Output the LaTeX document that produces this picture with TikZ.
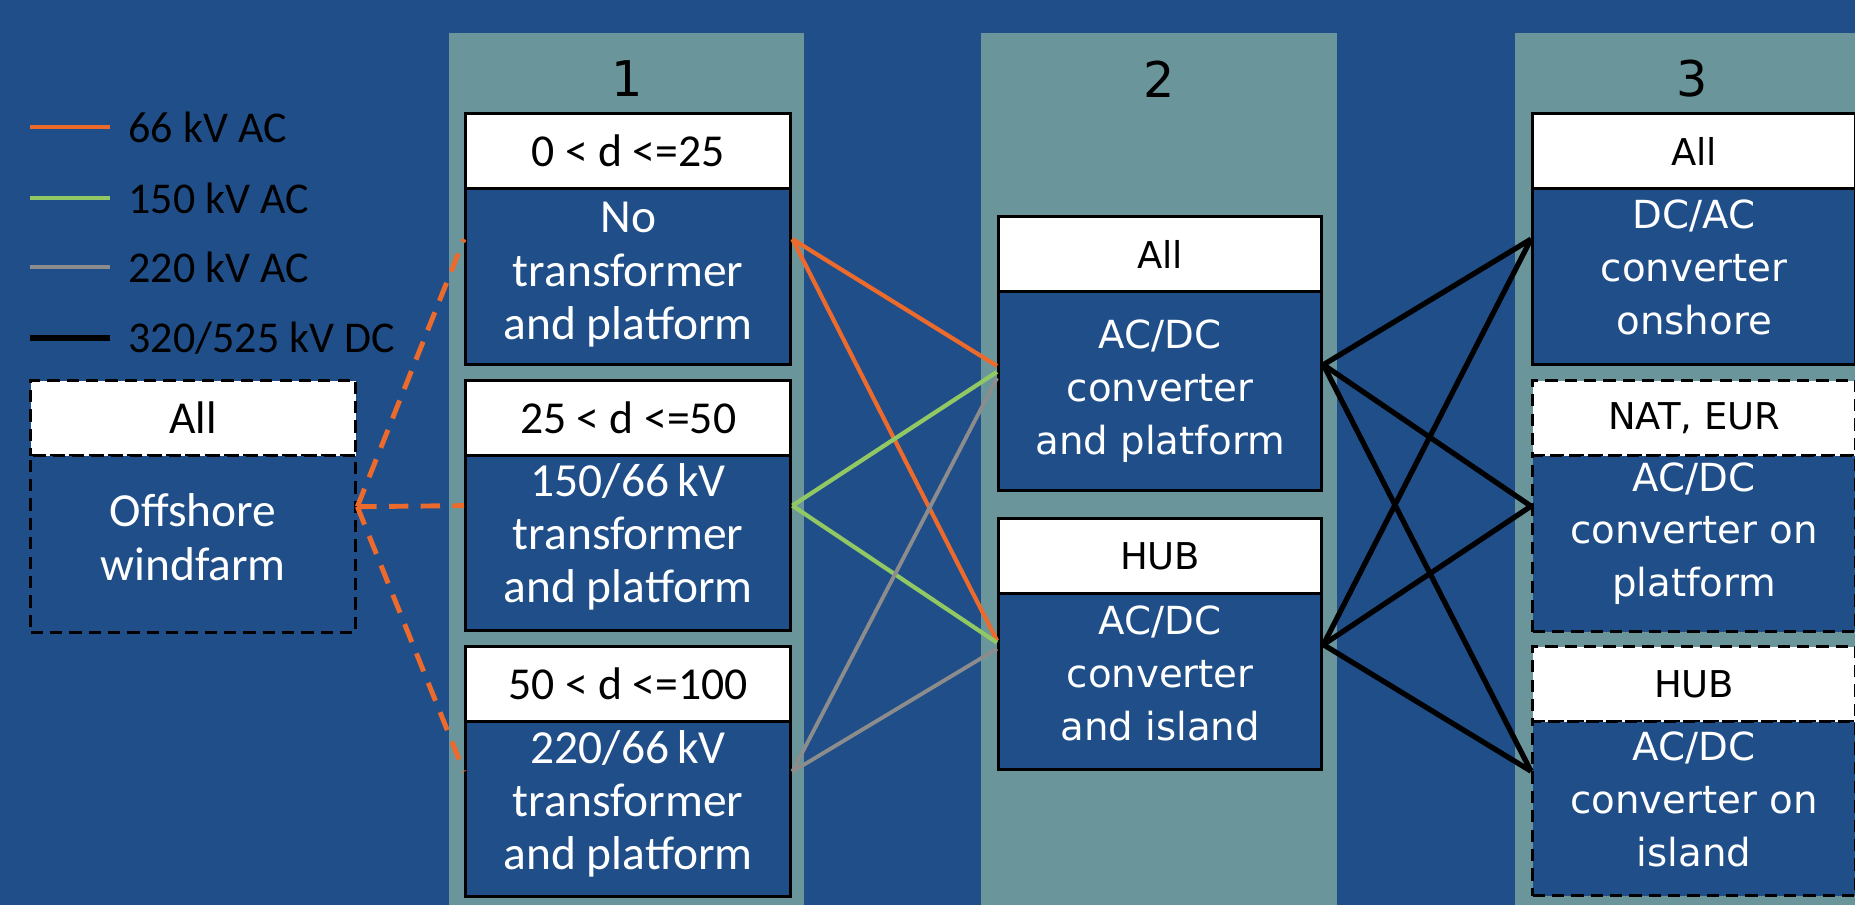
\documentclass[tikz,border=0pt]{standalone}
\usepackage{fontspec}
\newfontfamily\carlito{Carlito}
\newfontfamily\dejavu{DejaVu Sans}
\usetikzlibrary{calc}
\definecolor{bgblue}{HTML}{1F4E89}
\definecolor{colteal}{HTML}{6A969B}
\definecolor{lorange}{HTML}{EC6A2C}
\definecolor{lgreen}{HTML}{92C863}
\definecolor{lgray}{HTML}{8C8C8C}
\begin{document}
\begin{tikzpicture}[x=0.01cm,y=-0.01cm,
  hdr/.style={draw=black,line width=0.9pt,fill=white,inner sep=0pt,anchor=north west,minimum height=0.75cm},
  bdy/.style={draw=black,line width=0.9pt,fill=bgblue,inner sep=0pt,anchor=north west},
  dsh/.style={dash pattern=on 3.5pt off 2pt},
  wa/.style={minimum width=3.25cm},
  wb/.style={minimum width=3.23cm},
  wc/.style={minimum width=3.23cm},
  cfh/.style={font=\carlito\fontsize{13}{15}\selectfont,text=black},
  cfb/.style={font=\carlito\fontsize{13.5}{15.1}\selectfont,text=white,align=center,inner sep=0pt},
  dfh/.style={font=\dejavu\fontsize{10.5}{12}\selectfont,text=black},
  dfb/.style={font=\dejavu\fontsize{11}{15}\selectfont,text=white,align=center,inner sep=0pt},
  colnum/.style={font=\dejavu\fontsize{14}{16}\selectfont,text=black,inner sep=0pt},
  legtxt/.style={font=\carlito\fontsize{12.5}{14}\selectfont,text=black,anchor=west,inner sep=0pt},
  owire/.style={draw=lorange,line width=1.2pt},
  gwire/.style={draw=lgreen,line width=1.2pt},
  ywire/.style={draw=lgray,line width=1.1pt},
  kwire/.style={draw=black,line width=1.5pt},
  odash/.style={draw=lorange,line width=1.4pt,dash pattern=on 5.5pt off 3.5pt},
  legline/.style={line width=1.2pt}
]
\clip (0,0) rectangle (1855,905);
\useasboundingbox (0,0) rectangle (1855,905);
\fill[bgblue] (0,0) rectangle (1855,905);
% column backgrounds
\fill[colteal] (449,33) rectangle (804,905);
\fill[colteal] (981,33) rectangle (1337,905);
\fill[colteal] (1515,33) rectangle (1855,905);
\node[colnum] (n1) at (627,79) {1};
\node[colnum] (n2) at (1159,79) {2};
\node[colnum] (n3) at (1692,79) {3};

% legend
\coordinate (l1a) at (30,127); \coordinate (l1b) at (110,127);
\coordinate (l2a) at (30,198); \coordinate (l2b) at (110,198);
\coordinate (l3a) at (30,267); \coordinate (l3b) at (110,267);
\coordinate (l4a) at (30,338); \coordinate (l4b) at (110,338);
\draw[legline,lorange] (l1a) -- (l1b);
\draw[legline,lgreen] (l2a) -- (l2b);
\draw[legline,lgray] (l3a) -- (l3b);
\draw[line width=1.5pt,black] (l4a) -- (l4b);
\node[legtxt] (t1) at (128,127) {66 kV AC};
\node[legtxt] (t2) at (128,198) {150 kV AC};
\node[legtxt] (t3) at (128,267) {220 kV AC};
\node[legtxt] (t4) at (128,338) {320/525 kV DC};

% offshore windfarm
\node[hdr,wa,dsh,cfh] (wfh) at (29,379) {All};
\node[bdy,wa,dsh,minimum height=1.77cm] (wfb) at (29,454) {};
\node[cfb] (wft) at ([yshift=0.07cm]wfb.center) {Offshore\\windfarm};

% column 1
\node[hdr,wa,cfh] (b1h) at (464,112) {0 < d <=25};
\node[bdy,wa,minimum height=1.76cm] (b1b) at (464,187) {};
\node[cfb] (b1t) at ([yshift=0.02cm]b1b.center) {No\\transformer\\and platform};
\node[hdr,wa,cfh] (b2h) at (464,379) {25 < d <=50};
\node[bdy,wa,minimum height=1.75cm] (b2b) at (464,454) {};
\node[cfb] (b2t) at ([yshift=0.065cm]b2b.center) {150/66\,kV\\transformer\\and platform};
\node[hdr,wa,cfh] (b3h) at (464,645) {50 < d <=100};
\node[bdy,wa,minimum height=1.75cm] (b3b) at (464,720) {};
\node[cfb] (b3t) at ([yshift=0.055cm]b3b.center) {220/66\,kV\\transformer\\and platform};

% column 2
\node[hdr,wb,dfh] (ah) at (997,215) {All};
\node[bdy,wb,minimum height=1.99cm] (ab) at (997,290) {};
\node[dfb] (at) at (ab.center) {AC/DC\\converter\\and platform};
\node[hdr,wb,dfh] (bh) at (997,517) {HUB};
\node[bdy,wb,minimum height=1.76cm] (bb) at (997,592) {};
\node[dfb] (bt) at ([yshift=0.08cm]bb.center) {AC/DC\\converter\\and island};

% column 3
\node[hdr,wc,dfh] (c1h) at (1531,112) {All};
\node[bdy,wc,minimum height=1.76cm] (c1b) at (1531,187) {};
\node[dfb] (c1t) at ([yshift=0.09cm]c1b.center) {DC/AC\\converter\\onshore};
\node[hdr,wc,dsh,dfh] (c2h) at (1531,379) {NAT, EUR};
\node[bdy,wc,dsh,minimum height=1.76cm] (c2b) at (1531,454) {};
\node[dfb] (c2t) at ([yshift=0.10cm]c2b.center) {AC/DC\\converter on\\platform};
\node[hdr,wc,dsh,dfh] (c3h) at (1531,645) {HUB};
\node[bdy,wc,dsh,minimum height=1.74cm] (c3b) at (1531,720) {};
\node[dfb] (c3t) at ([yshift=0.09cm]c3b.center) {AC/DC\\converter on\\island};

% ports
\coordinate (wfE) at ($(wfh.north east)!0.5!(wfb.south east)$);
\coordinate (b1W) at ($(b1h.north west)!0.5!(b1b.south west)$);
\coordinate (b2W) at ($(b2h.north west)!0.5!(b2b.south west)$);
\coordinate (b3W) at ($(b3h.north west)!0.5!(b3b.south west)$);
\coordinate (b1E) at ($(b1h.north east)!0.5!(b1b.south east)$);
\coordinate (b2E) at ($(b2h.north east)!0.5!(b2b.south east)$);
\coordinate (b3E) at ($(b3h.north east)!0.5!(b3b.south east)$);
\coordinate (aWo) at ($(ah.north west)!0.544!(ab.south west)$);
\coordinate (aWg) at ($(ah.north west)!0.566!(ab.south west)$);
\coordinate (aWy) at ($(ah.north west)!0.588!(ab.south west)$);
\coordinate (aE) at ($(ah.north east)!0.54!(ab.south east)$);
\coordinate (bWo) at ($(bh.north west)!0.486!(bb.south west)$);
\coordinate (bWg) at ($(bh.north west)!0.494!(bb.south west)$);
\coordinate (bWy) at ($(bh.north west)!0.518!(bb.south west)$);
\coordinate (bE) at ($(bh.north east)!0.502!(bb.south east)$);
\coordinate (c1W) at ($(c1h.north west)!0.5!(c1b.south west)$);
\coordinate (c2W) at ($(c2h.north west)!0.5!(c2b.south west)$);
\coordinate (c3W) at ($(c3h.north west)!0.5!(c3b.south west)$);

% connectors
\draw[odash] (wfE) -- (b1W);
\draw[odash] (wfE) -- (b2W);
\draw[odash] (wfE) -- (b3W);
\draw[owire] (b1E) -- (aWo);
\draw[owire] (b1E) -- (bWo);
\draw[gwire] (b2E) -- (aWg);
\draw[gwire] (b2E) -- (bWg);
\draw[ywire] (b3E) -- (aWy);
\draw[ywire] (b3E) -- (bWy);
\draw[kwire] (aE) -- (c1W);
\draw[kwire] (aE) -- (c2W);
\draw[kwire] (aE) -- (c3W);
\draw[kwire] (bE) -- (c1W);
\draw[kwire] (bE) -- (c2W);
\draw[kwire] (bE) -- (c3W);
\end{tikzpicture}
\end{document}
